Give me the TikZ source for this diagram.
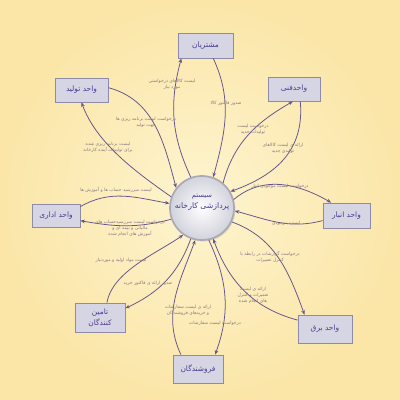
\documentclass[tikz,border=0pt]{standalone}
\usepackage{fontspec}
\newfontfamily\arabicfont[Script=Arabic]{DejaVu Sans}
\TeXXeTstate=1
\usetikzlibrary{arrows.meta,shadows}
\definecolor{bgin}{HTML}{FEF4CF}
\definecolor{bgout}{HTML}{FBE6A8}
\definecolor{linec}{HTML}{65558A}
\definecolor{boxfill}{HTML}{D6D5E3}
\definecolor{boxdraw}{HTML}{8E8BAA}
\definecolor{txt}{HTML}{4B3B92}
\definecolor{lbl}{HTML}{85777F}
\definecolor{rim}{HTML}{A9A9B8}
\definecolor{ballout}{HTML}{D2D2DC}
\newcommand{\fatx}[1]{\beginR #1\endR}
\begin{document}
\begin{tikzpicture}[x=0.025cm,y=-0.025cm,
  unitbox/.style={draw=boxdraw, fill=boxfill, line width=0.5pt, text=txt,
    font={\arabicfont\fontsize{5.3}{7.5}\selectfont}, align=center, inner sep=0pt,
    drop shadow={opacity=0.2,shadow xshift=0.8pt,shadow yshift=-0.8pt}},
  flow/.style={draw=linec, line width=0.55pt, -{Stealth[length=3.2pt,width=2.6pt]}},
  lab/.style={text=lbl, font={\arabicfont\fontsize{3.2}{4.2}\selectfont}, align=center, inner sep=0pt}]
\useasboundingbox (0,0) rectangle (400,400);
\fill[inner color=bgin, outer color=bgout] (0,0) rectangle (400,400);

% central process
\node[circle, minimum size=1.6cm, draw=rim, line width=1.2pt, inner color=white, outer color=ballout,
  text=txt, align=center, inner sep=0pt, font={\arabicfont\fontsize{5.5}{8}\selectfont},
  drop shadow={opacity=0.25,shadow xshift=1pt,shadow yshift=-1pt}]
  (sys) at (202,208) {{\fontsize{4.8}{6}\selectfont\fatx{سیستم}}\\\fatx{پردازشی کارخانه}\\[1pt]};

% external units
\node[unitbox, minimum width=1.375cm, minimum height=0.625cm] (cust) at (205.5,45.5) {\fatx{مشتریان}};
\node[unitbox, minimum width=1.325cm, minimum height=0.6cm] (prod) at (81.5,90) {\fatx{واحد تولید}};
\node[unitbox, minimum width=1.3cm, minimum height=0.6cm] (tech) at (294,89) {\fatx{واحدفنی}};
\node[unitbox, minimum width=1.175cm, minimum height=0.625cm] (ware) at (346.5,215.5) {\fatx{واحد انبار}};
\node[unitbox, minimum width=1.2cm, minimum height=0.575cm] (adm) at (56,215.5) {\fatx{واحد اداری}};
\node[unitbox, minimum width=1.25cm, minimum height=0.725cm] (sup) at (100,317.5) {\fatx{تامین}\\\fatx{کنندگان}};
\node[unitbox, minimum width=1.35cm, minimum height=0.7cm] (elec) at (325,329) {\fatx{واحد برق}};
\node[unitbox, minimum width=1.25cm, minimum height=0.7cm] (sell) at (198,369) {\fatx{فروشندگان}};

% flows
\draw[flow] (sys.110) to[out=115,in=-105] (cust.208);
\draw[flow] (cust.301) to[out=-65,in=75] (sys.70);
\draw[flow] (prod.5) to[out=-15,in=105] (sys.142);
\draw[flow] (sys.160) to[out=145,in=-70,looseness=0.85] (prod.south);
\draw[flow] (sys.50) to[out=75,in=210] (tech.265);
\draw[flow] (tech.297) to[out=-85,in=20,looseness=1.1] (sys.30);
\draw[flow] (sys.15) to[out=40,in=150] (ware.140);
\draw[flow] (ware.192) to[out=195,in=-15] (sys.-5);
\draw[flow] (adm.20) to[out=30,in=170] (sys.172);
\draw[flow] (sys.200) to[out=195,in=-10] (adm.348);
\draw[flow] (sup.65) to[out=80,in=215,looseness=0.8] (sys.235);
\draw[flow] (sys.250) to[out=250,in=25] (sup.20);
\draw[flow] (sell.140) to[out=115,in=-110] (sys.258);
\draw[flow] (sys.282) to[out=-65,in=70] (sell.40);
\draw[flow] (elec.162) to[out=165,in=-70] (sys.290);
\draw[flow] (sys.-25) to[out=-20,in=110] (elec.145);

% flow labels
\node[lab] (l1) at (172,84) {\fatx{لیست کالاهای درخواستی}\\\fatx{مورد نیاز}};
\node[lab] (l2) at (226,103) {\fatx{صدور فاکتور کالا}};
\node[lab] (l3) at (146,122) {\fatx{درخواست لیست برنامه ریزی ها}\\\fatx{جهت تولید}};
\node[lab] (l4) at (108,147) {\fatx{لیست برنامه ریزی شده}\\\fatx{برای تولیدات آینده کارخانه}};
\node[lab] (l5) at (253,129) {\fatx{درخواست لیست}\\\fatx{تولیدات جدید}};
\node[lab] (l6) at (283,148) {\fatx{ارائه ی لیست کالاهای}\\\fatx{تولیدی جدید}};
\node[lab] (l7) at (280,186) {\fatx{درخواست لیست موجودی انبار}};
\node[lab] (l8) at (286,223) {\fatx{لیست موجودی}};
\node[lab] (l9) at (116,190) {\fatx{لیست سررسید حساب ها و آموزش ها}};
\node[lab] (l10) at (130,228) {\fatx{درخواست لیست سررسیدحساب های}\\\fatx{مالیاتی و بیمه ای و}\\\fatx{آموزش های انجام شده}};
\node[lab] (l11) at (121,260) {\fatx{لیست مواد اولیه و موردنیاز}};
\node[lab] (l12) at (148,283) {\fatx{صدور ارائه ی فاکتور خرید}};
\node[lab] (l13) at (188,310) {\fatx{ارائه ی لیست سفارشات}\\\fatx{و خریدهای فروشندگان}};
\node[lab] (l14) at (215,323) {\fatx{درخواست لیست سفارشات}};
\node[lab] (l15) at (270,257) {\fatx{درخواست گزارشات در رابطه با}\\\fatx{کنترل تعمیرات}};
\node[lab] (l16) at (253,295) {\fatx{ارائه ی لیست}\\\fatx{تعمیرات و کنترل}\\\fatx{های انجام شده}};
\end{tikzpicture}
\end{document}
